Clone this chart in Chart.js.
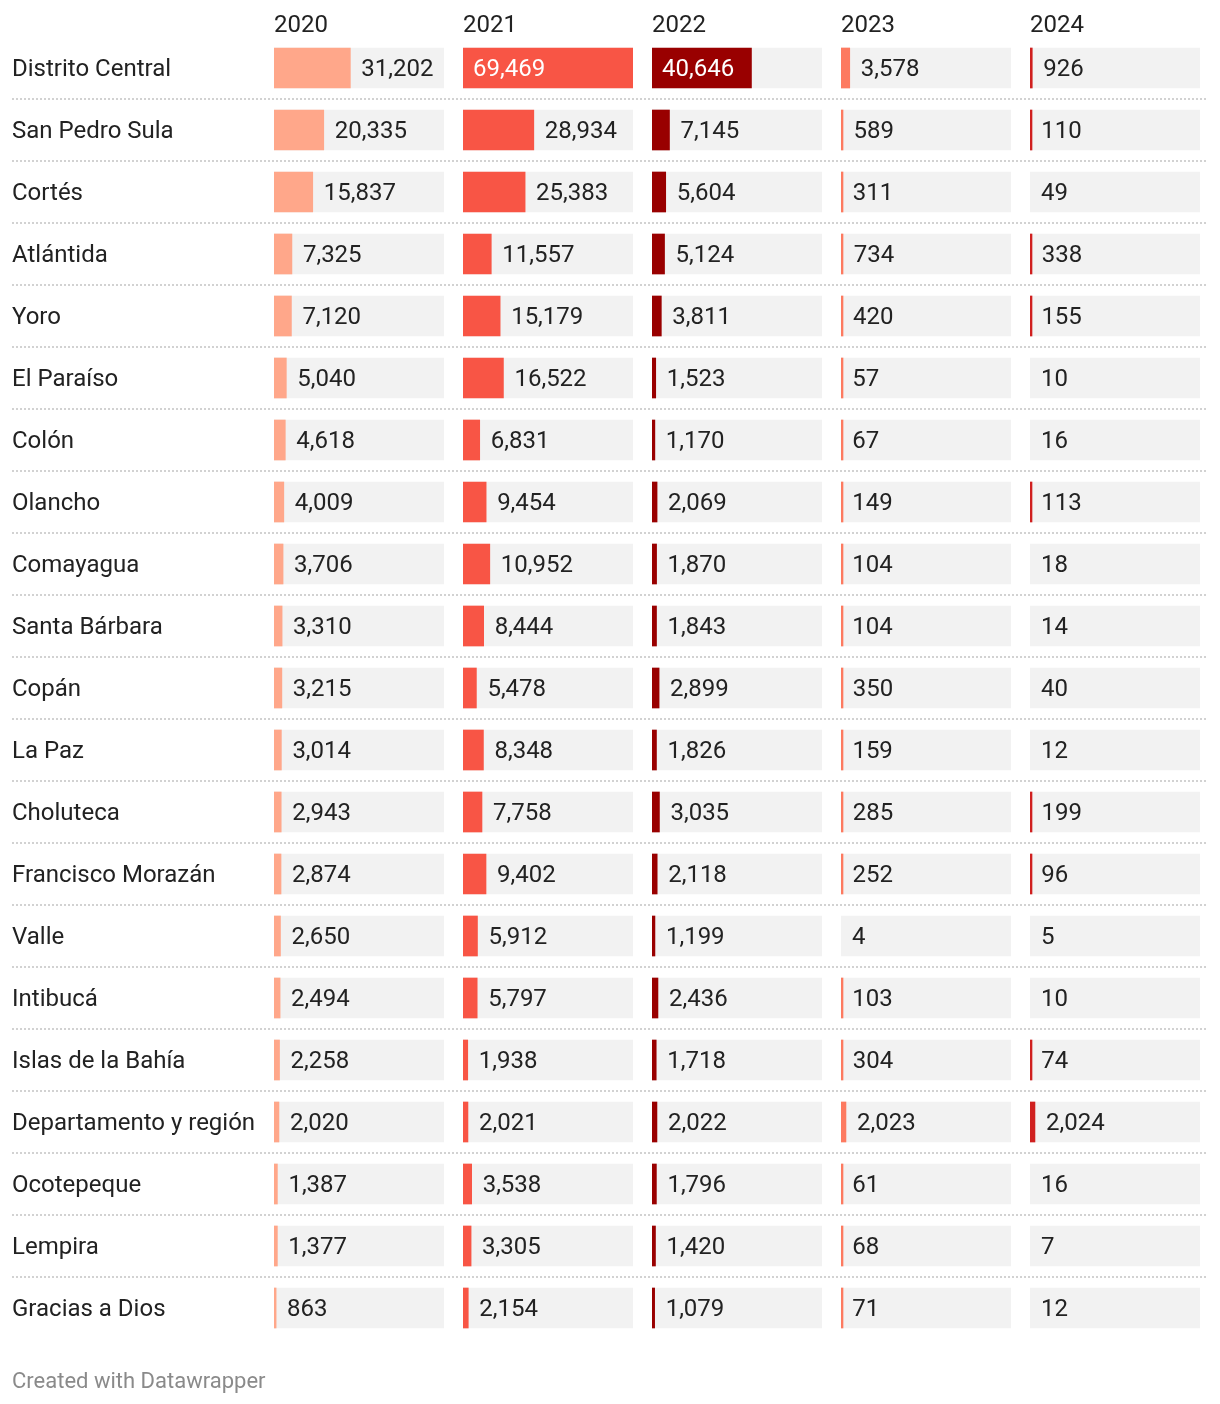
<!DOCTYPE html>
<html>
<head>
<meta charset="utf-8">
<script src="https://cdn.jsdelivr.net/npm/chart.js@4"></script>
<style>
  body { margin: 0; background: #fff; }
  #chart { display: block; }
</style>
</head>
<body>
<canvas id="chart" width="1220" height="1404"></canvas>
<script>
const departments = ['Distrito Central', 'San Pedro Sula', 'Cortés', 'Atlántida', 'Yoro', 'El Paraíso',
    'Colón', 'Olancho', 'Comayagua', 'Santa Bárbara', 'Copán', 'La Paz', 'Choluteca', 'Francisco Morazán',
    'Valle', 'Intibucá', 'Islas de la Bahía', 'Departamento y región', 'Ocotepeque', 'Lempira', 'Gracias a Dios']
const years = ['2020', '2021', '2022', '2023', '2024']

const cases2020 = [31202, 20335, 15837, 7325, 7120, 5040, 4618, 4009, 3706, 3310, 3215, 3014, 2943, 2874, 2650, 2494, 2258, 2020, 1387, 1377, 863]
const cases2021 = [69469, 28934, 25383, 11557, 15179, 16522, 6831, 9454, 10952, 8444, 5478, 8348, 7758, 9402, 5912, 5797, 1938, 2021, 3538, 3305, 2154]
const cases2022 = [40646, 7145, 5604, 5124, 3811, 1523, 1170, 2069, 1870, 1843, 2899, 1826, 3035, 2118, 1199, 2436, 1718, 2022, 1796, 1420, 1079]
const cases2023 = [3578, 589, 311, 734, 420, 57, 67, 149, 104, 104, 350, 159, 285, 252, 4, 103, 304, 2023, 61, 68, 71]
const cases2024 = [926, 110, 49, 338, 155, 10, 16, 113, 18, 14, 40, 12, 199, 96, 5, 10, 74, 2024, 16, 7, 12]

const yearValues = [cases2020, cases2021, cases2022, cases2023, cases2024]
const yearColors = ['#ffa78a', '#f85545', '#990000', '#fd7a60', '#d0201f']
const maxValue = Math.max(...yearValues.flat())

const FONT = 'Roboto'
const TEXT = '#222222'

// dotted separators between rows + number labels in each cell
const cellLabels = {
    id: 'cellLabels',
    beforeDatasetsDraw(chart) {
        const {ctx, chartArea, scales: {y}} = chart
        ctx.save()
        ctx.strokeStyle = '#d2d2d2'
        ctx.lineWidth = 2
        ctx.setLineDash([2, 2])
        for (let i = 0; i < departments.length - 1; i++) {
            const yy = Math.round((y.getPixelForValue(i) + y.getPixelForValue(i + 1)) / 2)
            ctx.beginPath()
            ctx.moveTo(12, yy)
            ctx.lineTo(chartArea.right + 8, yy)
            ctx.stroke()
        }
        ctx.restore()
    },
    afterDatasetsDraw(chart) {
        const {ctx, scales: {y}} = chart
        ctx.save()
        ctx.font = '24px ' + FONT
        ctx.textBaseline = 'middle'
        ctx.textAlign = 'left'
        years.forEach((year, k) => {
            const xs = chart.scales['x' + year]
            const x0 = xs.getPixelForValue(0)
            yearValues[k].forEach((v, i) => {
                const label = v.toLocaleString('en-US')
                const w = ctx.measureText(label).width
                const x1 = xs.getPixelForValue(v)
                const yy = y.getPixelForValue(i) + 2
                if (x1 - x0 > w + 18) {
                    ctx.fillStyle = '#ffffff'
                    ctx.fillText(label, x0 + 10, yy)
                } else {
                    ctx.fillStyle = TEXT
                    ctx.fillText(label, x1 + 11, yy)
                }
            })
        })
        ctx.restore()
    }
}

// one value axis per year, laid side by side in a single stack, with thin spacer axes between
const scales = {
    y: {
        type: 'category',
        position: 'left',
        grid: {display: false},
        border: {display: false},
        ticks: {crossAlign: 'far', autoSkip: false, labelOffset: 2, color: TEXT, font: {family: FONT, size: 24}},
        afterFit: (s) => { s.width = 262 }
    }
}
let w = 100
years.forEach((year, k) => {
    scales['x' + year] = {
        type: 'linear',
        position: 'top',
        stack: 'cols',
        stackWeight: 170,
        weight: w--,
        min: 0,
        max: maxValue,
        grid: {display: false, drawTicks: false},
        border: {display: false},
        ticks: {display: false},
        title: {display: true, text: year, align: 'start', color: TEXT,
            font: {family: FONT, size: 24}, padding: {top: 12, bottom: 0}},
        afterFit: (s) => { s.height = 37 }
    }
    if (k < years.length - 1) {
        scales['xgap' + k] = {
            type: 'linear',
            position: 'top',
            stack: 'cols',
            stackWeight: 19,
            weight: w--,
            display: false
        }
    }
})

const tracks = years.map((year) => ({
    label: 'track ' + year,
    data: departments.map(() => maxValue),
    xAxisID: 'x' + year,
    backgroundColor: '#f2f2f2',
    order: 1
}))
const bars = years.map((year, k) => ({
    label: year,
    data: yearValues[k],
    xAxisID: 'x' + year,
    backgroundColor: (c) => (c.raw / maxValue < 0.0008 ? 'rgba(0,0,0,0)' : yearColors[k]),
    minBarLength: 2,
    order: 0
}))

new Chart(document.getElementById('chart'), {
    type: 'bar',
    data: {
        labels: departments,
        datasets: [...tracks, ...bars]
    },
    options: {
        indexAxis: 'y',
        responsive: false,
        animation: false,
        events: [],
        layout: {padding: {left: 12, right: 20, top: 0, bottom: 0}},
        datasets: {
            bar: {grouped: false, barThickness: 40, borderWidth: 0}
        },
        scales: scales,
        plugins: {
            legend: {display: false},
            tooltip: {enabled: false},
            title: {
                display: true,
                text: 'Created with Datawrapper',
                position: 'bottom',
                align: 'start',
                color: '#8a8a8a',
                font: {family: FONT, size: 22, weight: 'normal'},
                padding: {top: 29.8, bottom: 8.8}
            }
        }
    },
    plugins: [cellLabels]
})
</script>
</body>
</html>
